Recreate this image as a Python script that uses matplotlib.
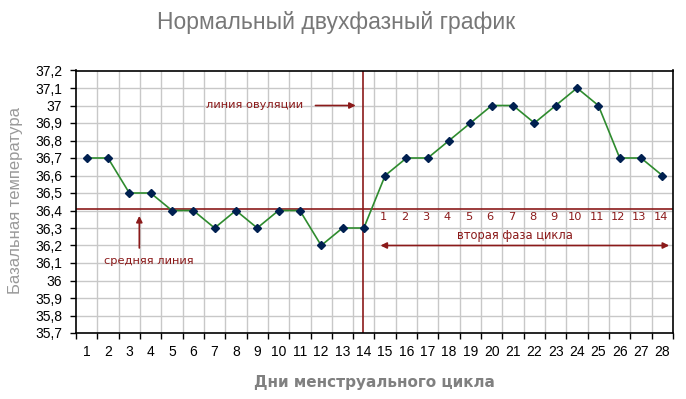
import matplotlib
matplotlib.use('Agg')
import matplotlib.pyplot as plt

days = list(range(1, 29))
temps = [36.7, 36.7, 36.5, 36.5, 36.4, 36.4, 36.3, 36.4, 36.3, 36.4,
         36.4, 36.2, 36.3, 36.3, 36.6, 36.7, 36.7, 36.8, 36.9, 37.0,
         37.0, 36.9, 37.0, 37.1, 37.0, 36.7, 36.7, 36.6]
y_ticks = [35.7, 35.8, 35.9, 36.0, 36.1, 36.2, 36.3, 36.4, 36.5, 36.6,
           36.7, 36.8, 36.9, 37.0, 37.1, 37.2]
y_labels = ['35,7', '35,8', '35,9', '36', '36,1', '36,2', '36,3', '36,4',
            '36,5', '36,6', '36,7', '36,8', '36,9', '37', '37,1', '37,2']
mean_temp = 36.41
ovulation_day = 13.95
phase2_days = list(range(1, 15))

red = '#8b1a1a'
gray = '#808080'

fig = plt.figure(figsize=(6.86, 3.99), dpi=100)
ax = fig.add_axes([76/686, 1 - 333/399, 597/686, 262.5/399])

ax.set_xlim(0.5, 28.5)
ax.set_ylim(35.7, 37.2)

# grid like excel: vertical lines between the days
for b in range(1, 28):
    ax.axvline(b + 0.5, color='#c8c8c8', lw=1, zorder=0)
for t in y_ticks[1:-1]:
    ax.axhline(t, color='#c8c8c8', lw=1, zorder=0)

ax.axhline(mean_temp, color=red, lw=1.2, zorder=1)
ax.axvline(ovulation_day, color=red, lw=1.2, zorder=1)

ax.plot(days, temps, color='#2e8b2e', lw=1.2, marker='D', markersize=4.5,
        markerfacecolor='#002050', markeredgecolor='#002050', zorder=3)

ax.set_xticks([b + 0.5 for b in range(0, 29)], minor=False)
ax.set_xticklabels([])
ax.set_xticks(days, minor=True)
ax.set_xticklabels([str(d) for d in days], minor=True, fontsize=10,
                   family='Liberation Sans')
ax.tick_params(axis='x', which='minor', length=0, pad=9)
ax.tick_params(axis='x', which='major', direction='out', length=4, width=1)
ax.set_yticks(y_ticks)
ax.set_yticklabels(y_labels, fontsize=10, family='Liberation Sans')
ax.tick_params(axis='y', direction='out', length=4, width=1, pad=6)
for s in ax.spines.values():
    s.set_linewidth(1.2)

# annotations
ax.text(6.6, 37.0, 'линия овуляции', color=red, fontsize=8.2,
        va='center', ha='left')
ax.annotate('', xy=(13.75, 37.0), xytext=(11.6, 37.0),
            arrowprops=dict(arrowstyle='-|>', color=red, lw=1.2,
                            mutation_scale=9))
ax.text(3.9, 36.11, 'средняя линия', color=red, fontsize=8.2,
        va='center', ha='center')
ax.annotate('', xy=(3.47, 36.385), xytext=(3.47, 36.17),
            arrowprops=dict(arrowstyle='-|>', color=red, lw=1.2,
                            mutation_scale=9))
for i, n in enumerate(phase2_days):
    ax.text(days[14 + i] - 0.08, 36.365, str(n), color=red, fontsize=8.2,
            va='center', ha='center')
ax.text(21.1, 36.255, 'вторая фаза цикла', color=red, fontsize=8.3,
        va='center', ha='center')
ax.annotate('', xy=(14.65, 36.2), xytext=(28.45, 36.2),
            arrowprops=dict(arrowstyle='<|-|>', color=red, lw=1.2,
                            mutation_scale=9))

fig.text(336/686, 1 - 22/399, 'Нормальный двухфазный график', color='#777777',
         fontsize=16.5, ha='center', va='center', family='Liberation Sans')
fig.text(374/686, 1 - 382/399, 'Дни менструального цикла', color=gray,
         fontsize=11, fontweight='bold', ha='center', va='center',
         family='Liberation Sans Narrow')
fig.text(16/686, 1 - 200/399, 'Базальная температура', color='#999999',
         fontsize=12, ha='center', va='center', rotation=90,
         family='Liberation Sans')

fig.savefig('out.png', dpi=100)
